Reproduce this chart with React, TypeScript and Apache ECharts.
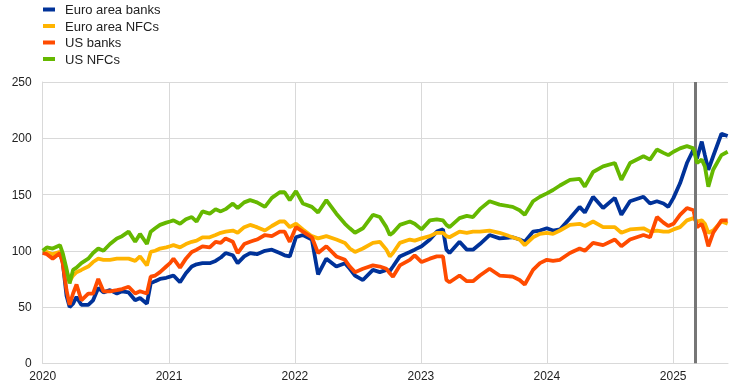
import React, { useEffect, useRef } from "react";
import * as echarts from "echarts";

const dates = [
  "2020-01-01", "2020-01-13", "2020-01-30", "2020-02-20", "2020-02-28", "2020-03-10", "2020-03-19", "2020-03-29",
  "2020-04-08", "2020-04-22", "2020-05-12", "2020-05-26", "2020-06-10", "2020-06-25", "2020-07-14", "2020-08-03",
  "2020-08-18", "2020-09-06", "2020-09-25", "2020-10-09", "2020-10-29", "2020-11-09", "2020-11-22", "2020-12-06",
  "2020-12-24",
  "2021-01-04", "2021-01-14", "2021-02-02", "2021-02-19", "2021-03-08", "2021-03-22", "2021-04-08", "2021-04-29",
  "2021-05-16", "2021-05-31", "2021-06-14", "2021-07-05", "2021-07-19", "2021-08-07", "2021-08-24", "2021-09-13",
  "2021-10-06", "2021-10-26", "2021-11-18", "2021-12-02", "2021-12-17",
  "2022-01-04", "2022-01-24", "2022-02-19", "2022-03-09", "2022-04-02", "2022-05-01", "2022-05-26", "2022-06-09",
  "2022-06-24", "2022-07-17", "2022-08-15", "2022-09-04", "2022-09-23", "2022-10-03", "2022-10-12", "2022-11-01",
  "2022-11-30", "2022-12-14",
  "2023-01-03", "2023-01-27", "2023-02-16", "2023-03-06", "2023-03-16", "2023-03-25", "2023-04-23", "2023-05-14",
  "2023-06-01", "2023-06-21", "2023-07-19", "2023-08-17", "2023-09-24", "2023-10-14", "2023-10-29", "2023-11-22",
  "2023-12-12",
  "2024-01-01", "2024-01-19", "2024-02-08", "2024-03-08", "2024-04-05", "2024-04-20", "2024-05-14", "2024-06-12",
  "2024-07-16", "2024-08-04", "2024-08-29", "2024-10-07", "2024-10-26", "2024-11-15", "2024-12-04", "2024-12-18",
  "2025-01-02", "2025-01-21", "2025-02-10", "2025-03-01", "2025-03-11", "2025-03-25", "2025-04-03", "2025-04-13",
  "2025-04-27", "2025-05-21", "2025-06-08",
];

const euroAreaBanks = [
  98, 98, 94, 98, 90, 60, 50, 53, 59, 52, 52, 56, 67, 63, 65, 62, 64, 63, 56, 58, 53, 71, 73, 75, 76,
  77, 78, 72, 80, 86, 88, 89, 89, 91, 94, 98, 96, 89, 95, 98, 97, 100, 101, 98, 96, 95,
  112, 114, 110, 79, 93, 86, 89, 84, 78, 74, 83, 81, 83, 82, 86, 95, 99, 101,
  104, 110, 117, 119, 101, 98, 108, 101, 101, 106, 114, 111, 112, 110, 108, 117, 118,
  120, 118, 119, 129, 139, 134, 148, 138, 147, 132, 144, 148, 142, 144, 142, 139,
  147, 160, 178, 190, 182, 197, 185, 172, 184, 204, 202,
];

const euroAreaNFCs = [
  100, 99, 97, 99, 95, 82, 73, 78, 81, 83, 86, 90, 93, 92, 92, 93, 93, 93, 91, 95, 87, 99, 100, 102, 103,
  104, 105, 103, 106, 108, 109, 112, 112, 114, 116, 117, 118, 116, 121, 123, 121, 118, 122, 126, 126, 121,
  124, 119, 113, 111, 113, 110, 107, 102, 99, 102, 107, 108, 101, 95, 98, 107, 110, 109,
  111, 113, 116, 116, 113, 112, 117, 116, 117, 117, 118, 116, 112, 110, 105, 112, 115,
  116, 115, 118, 123, 124, 122, 126, 121, 121, 116, 119, 120, 117, 118, 117, 117,
  119, 121, 127, 129, 126, 127, 124, 116, 118, 126, 124,
];

const usBanks = [
  98, 97, 93, 98, 89, 65, 52, 62, 70, 56, 62, 62, 75, 64, 64, 65, 66, 68, 62, 64, 62, 77, 78, 81, 86,
  89, 93, 85, 93, 99, 101, 104, 103, 108, 107, 111, 108, 98, 106, 108, 110, 114, 113, 117, 117, 108,
  121, 117, 112, 98, 104, 95, 92, 86, 81, 84, 87, 86, 84, 80, 77, 87, 92, 96,
  90, 93, 95, 95, 74, 72, 78, 73, 73, 78, 84, 78, 77, 74, 70, 83, 89,
  92, 91, 92, 98, 102, 100, 107, 105, 110, 104, 110, 114, 112, 130, 125, 122,
  124, 132, 138, 136, 121, 124, 116, 104, 116, 127, 127,
];

const usNFCs = [
  100, 103, 102, 105, 98, 84, 71, 83, 85, 89, 93, 98, 102, 100, 106, 111, 113, 117, 108, 115, 106, 117, 120, 123, 125,
  126, 127, 124, 128, 130, 126, 135, 133, 137, 135, 137, 142, 138, 143, 145, 143, 139, 147, 152, 152, 145,
  153, 142, 139, 134, 145, 133, 124, 120, 116, 120, 132, 130, 121, 114, 116, 123, 126, 124,
  119, 127, 128, 127, 123, 121, 129, 131, 130, 137, 144, 141, 139, 136, 132, 144, 148,
  151, 154, 158, 163, 164, 157, 170, 175, 178, 163, 178, 184, 181, 190, 187, 185,
  188, 191, 193, 191, 178, 181, 175, 157, 172, 185, 188,
];

const seriesNames = ["Euro area banks", "Euro area NFCs", "US banks", "US NFCs"];
const seriesColors = ["#003299", "#ffb400", "#ff4b00", "#65b800"];
const markerDate = "2025-03-07";
const xMin = "2020-01-01";
const xMax = "2025-06-09";

export default function App() {
  const ref = useRef<HTMLDivElement>(null);
  useEffect(() => {
    if (!ref.current) return;
    const chart = echarts.init(ref.current, null, { renderer: "svg" });
    const allSeries = [euroAreaBanks, euroAreaNFCs, usBanks, usNFCs];
    const font = "Liberation Sans, Arial, sans-serif";
    const day = 24 * 3600 * 1000;
    chart.setOption({
      animation: false,
      color: seriesColors,
      grid: { left: 42.7, right: 16, top: 82, bottom: 26.7, containLabel: false },
      legend: {
        orient: "vertical",
        left: 43,
        top: 3,
        padding: 0,
        itemWidth: 12,
        itemHeight: 4,
        itemGap: 3.5,
        icon: "rect",
        data: seriesNames,
        textStyle: { fontFamily: font, fontSize: 13, color: "#222", lineHeight: 13, padding: [0, 0, 0, 5] },
      },
      xAxis: {
        type: "time",
        min: xMin,
        max: xMax,
        minInterval: 365 * day,
        maxInterval: 366 * day,
        axisLine: { show: true, lineStyle: { color: "#d9d9d9", width: 1 } },
        axisTick: { show: false },
        splitLine: { show: true, showMaxLine: false, lineStyle: { color: "#d9d9d9", width: 1 } },
        axisLabel: {
          fontFamily: font,
          fontSize: 12,
          color: "#222",
          margin: 7,
          showMinLabel: true,
          showMaxLabel: false,
          formatter: (v: number) => String(new Date(v).getFullYear()),
        },
      },
      yAxis: {
        type: "value",
        min: 0,
        max: 250,
        interval: 50,
        axisLine: { show: true, lineStyle: { color: "#d9d9d9", width: 1 } },
        axisTick: { show: false },
        splitLine: { show: true, lineStyle: { color: "#d9d9d9", width: 1 } },
        axisLabel: { fontFamily: font, fontSize: 12, color: "#222", margin: 11 },
      },
      series: allSeries.map((arr, i) => ({
        name: seriesNames[i],
        type: "line",
        data: dates.map((d, j) => [d, arr[j]]),
        showSymbol: false,
        symbol: "none",
        lineStyle: { width: 3.8, color: seriesColors[i] },
        z: 2 + i,
        markLine:
          i === allSeries.length - 1
            ? {
                silent: true,
                symbol: ["none", "none"],
                label: { show: false },
                lineStyle: { color: "#767676", width: 3, type: "solid" },
                data: [{ xAxis: markerDate }],
              }
            : undefined,
      })),
    });
    return () => chart.dispose();
  }, []);
  return <div ref={ref} style={{ position: "fixed", left: 0, top: 0, width: 744, height: 390 }} />;
}
